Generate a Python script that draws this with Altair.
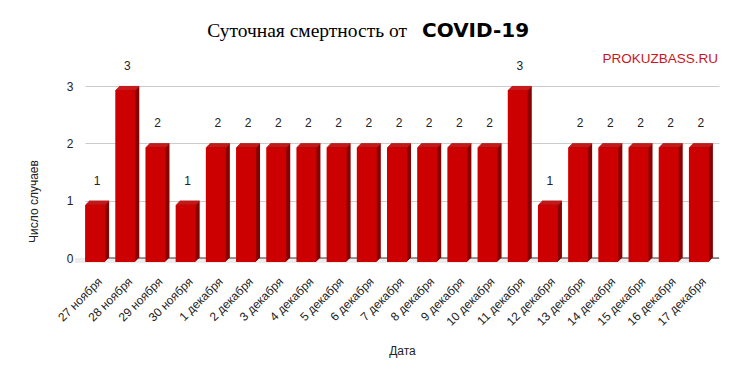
import altair as alt
import pandas as pd

dates = ["27 ноября", "28 ноября", "29 ноября", "30 ноября", "1 декабря", "2 декабря",
         "3 декабря", "4 декабря", "5 декабря", "6 декабря", "7 декабря", "8 декабря",
         "9 декабря", "10 декабря", "11 декабря", "12 декабря", "13 декабря", "14 декабря",
         "15 декабря", "16 декабря", "17 декабря"]
deaths = [1, 3, 2, 1, 2, 2, 2, 2, 2, 2, 2, 2, 2, 2, 3, 1, 2, 2, 2, 2, 2]
y_ticks = [0, 1, 2, 3]

df = pd.DataFrame({"date": dates, "value": deaths})
one = pd.DataFrame({"k": [0]})

FRONT = "#cc0000"
SIDE = "#8a0000"
TOP = "#dc2a2a"
FONT = "Liberation Sans"
BW = 20
DEPTH = 4
X0 = -5

base = alt.Chart(df).encode(
    x=alt.X("date:N", sort=dates, title="Дата",
            scale=alt.Scale(paddingInner=0.3, paddingOuter=0.15),
            axis=alt.Axis(labelAngle=-45, labelAlign="right", labelBaseline="middle",
                          labelPadding=21, ticks=False, domain=False,
                          labelFont=FONT, labelFontSize=12, labelColor="#222222",
                          titleFont=FONT, titleFontSize=12, titleFontWeight="normal",
                          titleColor="#222222", titleY=92, titleBaseline="middle")),
    y=alt.Y("value:Q", title="Число случаев",
            scale=alt.Scale(domain=[0, 3], nice=False),
            axis=alt.Axis(values=y_ticks, format="d", ticks=False, domain=False,
                          grid=True, gridColor="#cccccc", labelPadding=12,
                          labelFont=FONT, labelFontSize=12, labelColor="#222222",
                          titleFont=FONT, titleFontSize=12, titleFontWeight="normal",
                          titleColor="#222222", titleX=-52, titleY=115,
                          titleAlign="center", titleBaseline="middle")),
)

floor = alt.Chart(one).mark_rect(color="#ececec").encode(
    x=alt.value(-10), x2=alt.value(626), y=alt.value(172), y2=alt.value(177))
baseline = alt.Chart(one).mark_rule(color="#333333", strokeWidth=1).encode(
    x=alt.value(0), x2=alt.value(634), y=alt.value(172))

layers = [floor, baseline]
for k in range(DEPTH, 0, -1):
    layers.append(base.mark_bar(width=BW, color=SIDE, xOffset=X0 + k,
                                yOffset=DEPTH - k, y2Offset=DEPTH - k))
for k in range(1, DEPTH + 1):
    layers.append(base.mark_tick(orient="horizontal", size=BW, thickness=1.2, color=TOP,
                                 xOffset=X0 + k, yOffset=DEPTH - k + 0.5))
layers.append(base.mark_bar(width=BW, color=FRONT, xOffset=X0,
                            yOffset=DEPTH, y2Offset=DEPTH))
layers.append(base.mark_text(dy=-20, dx=-3, font=FONT, fontSize=12, color="#222222")
              .encode(text="value:Q"))

title1 = alt.Chart(one).mark_text(text="Суточная смертность от", font="Liberation Serif",
                                  fontSize=19.5, align="right", baseline="alphabetic",
                                  color="#000000").encode(x=alt.value(322), y=alt.value(-49))
title2 = alt.Chart(one).mark_text(text="COVID-19", font="DejaVu Sans", fontWeight="bold",
                                  fontSize=20, align="left", baseline="alphabetic",
                                  color="#000000").encode(x=alt.value(337), y=alt.value(-49))
brand = alt.Chart(one).mark_text(text="PROKUZBASS.RU", font=FONT, fontSize=13.5,
                                 align="right", baseline="alphabetic",
                                 color="#c8161d").encode(x=alt.value(633), y=alt.value(-23))
layers += [title1, title2, brand]

chart = alt.layer(*layers).properties(
    width=634, height=172,
    autosize=alt.AutoSizeParams(type="none"),
    padding={"left": 77, "top": 78, "right": 11, "bottom": 108},
    background="white",
).configure_view(stroke=None)

chart.save("out.html", embed_options={"renderer": "svg", "actions": False})
